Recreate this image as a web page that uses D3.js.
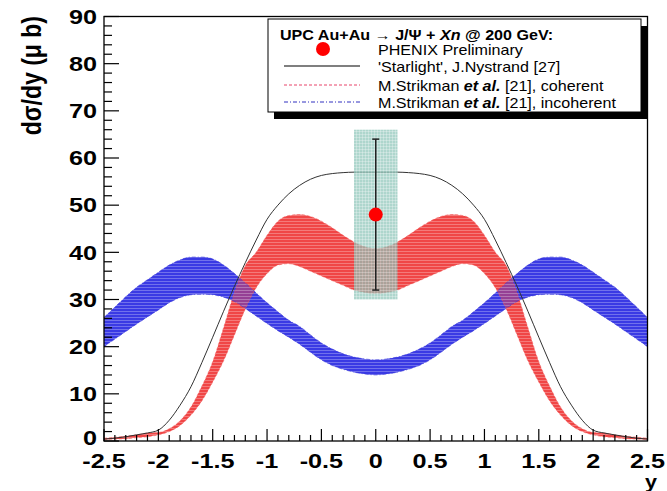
<!DOCTYPE html>
<html>
<head>
<meta charset="utf-8">
<script src="https://cdn.jsdelivr.net/npm/d3@7"></script>
<style>
  body { margin: 0; background: #fff; }
  svg { display: block; }
  text { font-family: "Liberation Sans", Arial, Helvetica, sans-serif; }
</style>
</head>
<body>
<svg id="chart"></svg>
<script>
// rapidity grid
const rapidity = [-2.5,-2.4,-2.3,-2.2,-2.1,-2.0,-1.9,-1.8,-1.7,-1.6,-1.5,-1.4,-1.3,-1.2,-1.1,-1.0,-0.9,-0.8,-0.7,-0.6,-0.5,-0.4,-0.3,-0.2,-0.1,
  0.0,0.1,0.2,0.3,0.4,0.5,0.6,0.7,0.8,0.9,1.0,1.1,1.2,1.3,1.4,1.5,1.6,1.7,1.8,1.9,2.0,2.1,2.2,2.3,2.4,2.5];

// 'Starlight', J.Nystrand
const starlight = [0.4,0.6,0.9,1.3,1.7,2.3,4.4,7.6,11.5,16.6,22.0,27.5,32.8,37.8,42.6,47.0,50.0,52.4,54.2,55.5,56.3,56.7,56.9,57.0,57.0,
  57.0,57.0,57.0,56.9,56.7,56.3,55.5,54.2,52.4,50.0,47.0,42.6,37.8,32.8,27.5,22.0,16.6,11.5,7.6,4.4,2.3,1.7,1.3,0.9,0.6,0.4];

// M.Strikman et al., coherent (band)
const coherentHigh = [0.6,0.8,1.0,1.3,1.7,1.8,2.6,4.3,7.2,11.6,16.8,24.0,31.5,37.2,40.0,43.6,46.6,47.8,48.0,47.6,46.6,45.2,43.6,42.2,41.2,
  40.8,41.2,42.2,43.6,45.2,46.6,47.6,48.0,47.8,46.6,43.6,40.0,37.2,31.5,24.0,16.8,11.6,7.2,4.3,2.6,1.8,1.7,1.3,1.0,0.8,0.6];
const coherentLow = [0.3,0.4,0.5,0.7,0.9,1.3,2.0,3.3,5.5,8.5,12.5,17.0,22.5,28.0,32.5,35.5,37.3,37.6,37.0,36.0,35.0,34.0,33.0,32.0,31.5,
  31.3,31.5,32.0,33.0,34.0,35.0,36.0,37.0,37.6,37.3,35.5,32.5,28.0,22.5,17.0,12.5,8.5,5.5,3.3,2.0,1.3,0.9,0.7,0.5,0.4,0.3];

// M.Strikman et al., incoherent (band)
const incoherentHigh = [26.2,28.4,30.6,32.6,34.2,35.8,37.3,38.4,39.0,39.0,38.6,37.3,35.5,33.5,31.4,29.3,27.4,25.6,24.3,22.5,20.8,19.5,18.5,17.8,17.4,
  17.2,17.4,17.8,18.5,19.5,20.8,22.5,24.3,25.6,27.4,29.3,31.4,33.5,35.5,37.3,38.6,39.0,39.0,38.4,37.3,35.8,34.2,32.6,30.6,28.4,26.2];
const incoherentLow = [20.0,21.6,23.2,24.8,26.3,27.8,29.3,30.4,31.0,31.1,31.0,30.5,29.6,28.1,26.5,24.9,23.4,22.0,20.5,18.8,17.2,16.0,15.2,14.6,14.2,
  14.0,14.2,14.6,15.2,16.0,17.2,18.8,20.5,22.0,23.4,24.9,26.5,28.1,29.6,30.5,31.0,31.1,31.0,30.4,29.3,27.8,26.3,24.8,23.2,21.6,20.0];

// PHENIX Preliminary point
const phenixY = [0];
const phenixValue = [48];
const phenixStat = [[32, 64]];
const phenixSyst = [[30, 66]];
const phenixSystHalfWidth = 0.2;

const xTicks = [-2.5,-2,-1.5,-1,-0.5,0,0.5,1,1.5,2,2.5];
const xTickLabels = ["-2.5","-2","-1.5","-1","-0.5","0","0.5","1","1.5","2","2.5"];
const yTicks = [0,10,20,30,40,50,60,70,80,90];

const W = 667, H = 491;
const svg = d3.select("#chart").attr("width", W).attr("height", H);
const defs = svg.append("defs");

const x = d3.scaleLinear().domain([-2.5, 2.5]).range([104, 647.5]);
const y = d3.scaleLinear().domain([0, 90]).range([441, 16.5]);
const SX = 1.2; // horizontal stretch of the original image text

// ROOT-like hatched fills
function hatch(id, color, grid) {
  const p = defs.append("pattern").attr("id", id)
    .attr("patternUnits", "userSpaceOnUse").attr("width", 3).attr("height", 3);
  p.append("rect").attr("width", 3).attr("height", 3).attr("fill", color);
  p.append("rect").attr("y", 2).attr("width", 3).attr("height", 0.8).attr("fill", "#fff").attr("opacity", 0.35);
  if (grid) p.append("rect").attr("x", 2).attr("width", 0.8).attr("height", 3).attr("fill", "#fff").attr("opacity", 0.35);
}
hatch("redFill", "#f04646");
hatch("blueFill", "#3a3ae4");
hatch("tealFill", "#8fc6ba", true);

const rows = rapidity.map((r, i) => ({
  r, star: starlight[i],
  cHi: coherentHigh[i], cLo: coherentLow[i],
  iHi: incoherentHigh[i], iLo: incoherentLow[i]
}));

const band = (hi, lo) => d3.area().curve(d3.curveMonotoneX)
  .x(d => x(d.r)).y0(d => y(d[lo])).y1(d => y(d[hi]));
const edge = key => d3.line().curve(d3.curveMonotoneX).x(d => x(d.r)).y(d => y(d[key]));

const plot = svg.append("g");
plot.append("path").datum(rows).attr("d", band("iHi", "iLo")).attr("fill", "url(#blueFill)");
plot.append("path").datum(rows).attr("d", band("cHi", "cLo")).attr("fill", "url(#redFill)");
// let the blue band show through the red one where they overlap
plot.append("path").datum(rows).attr("d", band("iHi", "iLo")).attr("fill", "url(#blueFill)").attr("opacity", 0.5);

["cHi", "cLo"].forEach(k => plot.append("path").datum(rows).attr("d", edge(k))
  .attr("fill", "none").attr("stroke", "#f25a5a").attr("stroke-width", 0.8).attr("stroke-dasharray", "3,2").attr("opacity", 0.7));
["iHi", "iLo"].forEach(k => plot.append("path").datum(rows).attr("d", edge(k))
  .attr("fill", "none").attr("stroke", "#3a3ad8").attr("stroke-width", 0.8).attr("stroke-dasharray", "4,2,1,2").attr("opacity", 0.7));

plot.append("path").datum(rows).attr("d", edge("star"))
  .attr("fill", "none").attr("stroke", "#333").attr("stroke-width", 1);

// PHENIX point with systematic box and stat bar
phenixY.forEach((py, i) => {
  plot.append("rect")
    .attr("x", x(py - phenixSystHalfWidth)).attr("width", x(py + phenixSystHalfWidth) - x(py - phenixSystHalfWidth))
    .attr("y", y(phenixSyst[i][1])).attr("height", y(phenixSyst[i][0]) - y(phenixSyst[i][1]))
    .attr("fill", "url(#tealFill)").attr("opacity", 0.72);
  plot.append("line").attr("x1", x(py)).attr("x2", x(py))
    .attr("y1", y(phenixStat[i][0])).attr("y2", y(phenixStat[i][1]))
    .attr("stroke", "#222").attr("stroke-width", 1.5);
  phenixStat[i].forEach(v => plot.append("line")
    .attr("x1", x(py) - 3.5).attr("x2", x(py) + 3.5).attr("y1", y(v)).attr("y2", y(v))
    .attr("stroke", "#222").attr("stroke-width", 1.5));
  plot.append("circle").attr("cx", x(py)).attr("cy", y(phenixValue[i])).attr("r", 7)
    .attr("fill", "#f00");
});

// frame
svg.append("rect").attr("x", x(-2.5)).attr("y", y(90))
  .attr("width", x(2.5) - x(-2.5)).attr("height", y(0) - y(90))
  .attr("fill", "none").attr("stroke", "#000").attr("stroke-width", 1.3);

// ticks pointing inwards
const axes = svg.append("g").attr("stroke", "#000").attr("stroke-width", 1.2);
d3.range(0, 91, 2).forEach(v => {
  const major = v % 10 === 0;
  axes.append("line").attr("x1", x(-2.5)).attr("x2", x(-2.5) + (major ? 15 : 8))
    .attr("y1", y(v)).attr("y2", y(v));
});
d3.range(-25, 26, 1).forEach(k => {
  const major = k % 5 === 0;
  axes.append("line").attr("x1", x(k / 10)).attr("x2", x(k / 10))
    .attr("y1", y(0)).attr("y2", y(0) - (major ? 12 : 6));
});

function stretched(px, py, str, opts = {}) {
  const g = svg.append("g").attr("transform", `translate(${px},${py}) scale(${opts.sx || SX},1)`);
  return g.append("text").text(str)
    .attr("text-anchor", opts.anchor || "middle")
    .attr("dominant-baseline", opts.baseline || "central")
    .attr("font-size", opts.size || 21)
    .attr("font-weight", opts.weight || "bold");
}

yTicks.forEach(v => stretched(97, y(v) + (v === 0 ? -3 : 0), String(v), { anchor: "end" }));
xTicks.forEach((v, i) => stretched(x(v), 461, xTickLabels[i]));
stretched(651, 482, "y", { size: 18 });

// y title
svg.append("text")
  .attr("transform", `translate(41,16) rotate(-90) scale(1,${SX})`)
  .attr("text-anchor", "end").attr("font-size", 23).attr("font-weight", "bold")
  .text("dσ/dy (μ b)");

// legend
const lg = svg.append("g");
lg.append("rect").attr("x", 274).attr("y", 26).attr("width", 373).attr("height", 93).attr("fill", "#000");
lg.append("rect").attr("x", 268).attr("y", 19).attr("width", 373).attr("height", 93)
  .attr("fill", "#fff").attr("stroke", "#000").attr("stroke-width", 1);

const title = stretched(280, 34, "", { anchor: "start", size: 14, sx: 1.15 });
title.append("tspan").text("UPC Au+Au → J/Ψ + ");
title.append("tspan").attr("font-style", "italic").text("Xn");
title.append("tspan").text(" @ 200 GeV:");

const rowY = [49, 66, 85, 102];
lg.append("circle").attr("cx", 323).attr("cy", rowY[0]).attr("r", 7).attr("fill", "#f00");
lg.append("line").attr("x1", 284).attr("x2", 360).attr("y1", rowY[1]).attr("y2", rowY[1])
  .attr("stroke", "#000").attr("stroke-width", 1.2);
lg.append("line").attr("x1", 284).attr("x2", 360).attr("y1", rowY[2]).attr("y2", rowY[2])
  .attr("stroke", "#e8456a").attr("stroke-width", 1).attr("stroke-dasharray", "3,2");
lg.append("line").attr("x1", 284).attr("x2", 360).attr("y1", rowY[3]).attr("y2", rowY[3])
  .attr("stroke", "#3030c0").attr("stroke-width", 1).attr("stroke-dasharray", "4,2,1,2");

const legendTexts = [
  [["PHENIX Preliminary", false]],
  [["'Starlight', J.Nystrand [27]", false]],
  [["M.Strikman ", false], ["et al.", true], [" [21], coherent", false]],
  [["M.Strikman ", false], ["et al.", true], [" [21], incoherent", false]]
];
legendTexts.forEach((parts, i) => {
  const t = stretched(378, rowY[i], "", { anchor: "start", size: 14, sx: 1.15, weight: "normal" });
  parts.forEach(([s, em]) => {
    const sp = t.append("tspan").text(s);
    if (em) sp.attr("font-style", "italic").attr("font-weight", "bold");
  });
});
</script>
</body>
</html>
